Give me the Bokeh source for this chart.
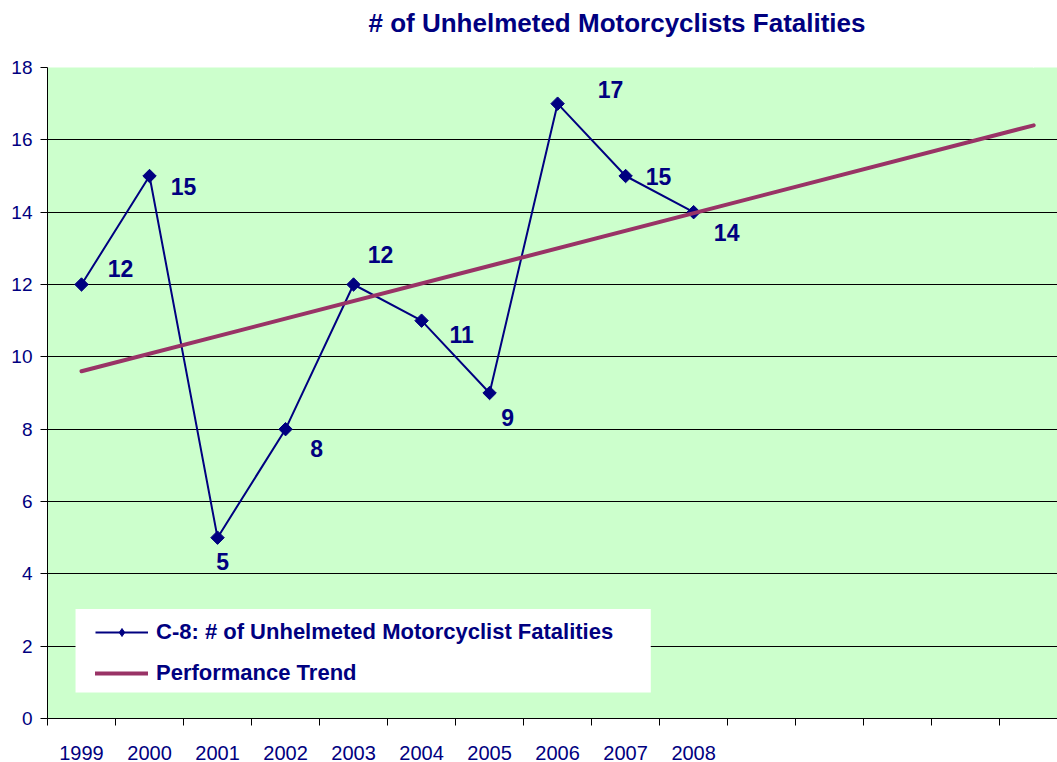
import math
from bokeh.plotting import figure
from bokeh.models import (ColumnDataSource, FixedTicker, Legend, LegendItem,
                          BoxAnnotation, LinearAxis)
from bokeh.core.properties import value
from bokeh.embed import file_html
from bokeh.resources import INLINE

# ---- data ----
years = ["1999", "2000", "2001", "2002", "2003", "2004", "2005", "2006", "2007", "2008"]
fatalities = [12, 15, 5, 8, 12, 11, 9, 17, 15, 14]
extra_slots = 5                      # empty category slots after 2008
trend_pos = [0, 14]                  # category index where trend starts / ends
trend_values = [9.6, 16.4]           # trend values read at those positions
y_ticks = [0, 2, 4, 6, 8, 10, 12, 14, 16, 18]
title_text = "# of Unhelmeted Motorcyclists Fatalities"

# ---- label placement (style, in pixels) ----
label_dx = [39, 34, 5, 31, 27, 40, 18, 53, 33, 33]
label_dy = [-16, 10, 24, 19, -30, 14, 24, -14, 0, 20]

NAVY = "#000080"
TREND = "#993366"
FONT = "Liberation Sans"

n_slots = len(years) + extra_slots
xs = list(range(len(years)))
tick_labels = years + [""] * extra_slots

src = ColumnDataSource(dict(
    x=xs, y=fatalities, label=[str(v) for v in fatalities],
    dx=label_dx, dy=label_dy,
))

p = figure(width=1057, height=762,
           x_range=(-0.5, 14.35), y_range=(0, 18),
           output_backend="svg", toolbar_location=None,
           min_border_left=47, min_border_right=0,
           min_border_top=67, min_border_bottom=41,
           background_fill_color="#CCFFCC", border_fill_color="white",
           outline_line_color=None)

# blank spacer axis between the title and the plot area (white on white)
spacer = LinearAxis(ticker=FixedTicker(ticks=[14]), axis_line_color=None,
                    major_tick_line_color="white", minor_tick_line_color=None,
                    major_tick_out=25, major_tick_in=0, minor_tick_out=0,
                    major_label_standoff=0, major_label_overrides={14: ""},
                    major_label_text_color="white")
p.add_layout(spacer, "above")

# title
p.title.text = title_text
p.title.text_font = FONT
p.title.text_font_size = "26px"
p.title.text_font_style = "bold"
p.title.text_color = NAVY
p.title.align = "left"
p.title.offset = 321
p.title.standoff = 10

# grid
p.xgrid.grid_line_color = None
p.ygrid.grid_line_color = "black"
p.ygrid.grid_line_width = 1
p.ygrid.ticker = FixedTicker(ticks=y_ticks)

# y axis
p.yaxis.ticker = FixedTicker(ticks=y_ticks)
p.yaxis.axis_line_color = "black"
p.yaxis.major_tick_line_color = "black"
p.yaxis.major_tick_out = 7
p.yaxis.major_tick_in = 0
p.yaxis.minor_tick_line_color = None
p.yaxis.major_label_text_font = FONT
p.yaxis.major_label_text_font_size = "19px"
p.yaxis.major_label_text_color = NAVY
p.yaxis.major_label_standoff = 8

# x axis (below): labels at category centres, tick marks at category boundaries
xa = p.below[0]
xa.ticker = FixedTicker(ticks=list(range(n_slots)),
                        minor_ticks=[i - 0.5 for i in range(n_slots + 1)])
xa.major_label_overrides = {i: tick_labels[i] for i in range(n_slots)}
xa.axis_line_color = "black"
xa.major_tick_out = 0
xa.major_tick_in = 0
xa.major_tick_line_color = None
xa.minor_tick_line_color = "black"
xa.minor_tick_out = 7
xa.minor_tick_in = 0
xa.major_label_text_font = FONT
xa.major_label_text_font_size = "20px"
xa.major_label_text_color = NAVY
xa.major_label_standoff = 20

# series
line_r = p.line(x="x", y="y", source=src, line_color=NAVY, line_width=2)
mark_r = p.scatter(x="x", y="y", source=src, marker="square", size=9.5,
                   angle=math.pi / 4, fill_color=NAVY, line_color=NAVY)
trend_r = p.line(x=trend_pos, y=trend_values, line_color=TREND, line_width=4,
                 line_cap="round")
# marker used only for the legend swatch (no visible points)
legend_mark = p.scatter(x=[float("nan")], y=[float("nan")], marker="diamond",
                        size=18, fill_color=NAVY, line_color=NAVY)

p.text(x="x", y="y", text="label", x_offset="dx", y_offset="dy", source=src,
       text_align="center", text_baseline="middle",
       text_font=value(FONT), text_font_size="23px", text_font_style="bold",
       text_color=NAVY)

# white legend panel
p.add_layout(BoxAnnotation(left=-0.088, right=8.37, bottom=0.716, top=3.03,
                           fill_color="white", fill_alpha=1.0, line_color=None))

legend = Legend(items=[
    LegendItem(label="C-8: # of Unhelmeted Motorcyclist Fatalities", renderers=[line_r, legend_mark]),
    LegendItem(label="Performance Trend", renderers=[trend_r]),
], location=(48, 32))
legend.label_text_font = FONT
legend.label_text_font_size = "22px"
legend.label_text_font_style = "bold"
legend.label_text_color = NAVY
legend.glyph_width = 53
legend.glyph_height = 20
legend.label_height = 20
legend.label_standoff = 8
legend.spacing = 15
legend.padding = 14
legend.margin = 0
legend.border_line_color = None
legend.background_fill_alpha = 0.0
p.add_layout(legend)

open("out.html", "w").write(file_html(p, INLINE))
